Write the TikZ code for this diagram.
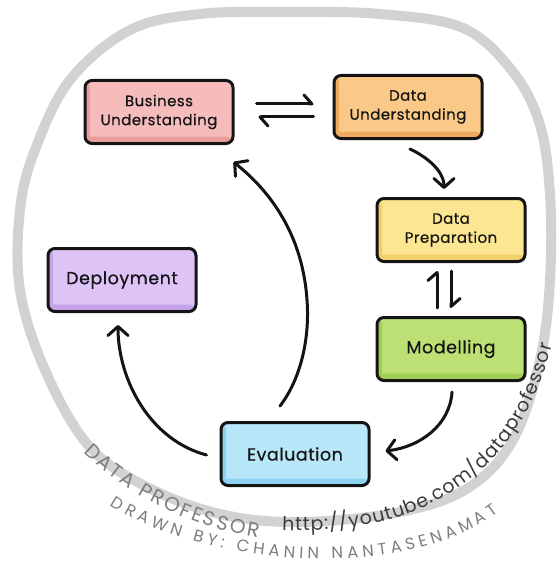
\documentclass[tikz,border=0pt]{standalone}
\usepackage{fontspec}
\newfontfamily\handfont{Poppins}[LetterSpace=3,FakeBold=0.5]
\newfontfamily\signfont{Poppins}
\usetikzlibrary{arrows.meta,decorations.text,calc}

\definecolor{ink}{HTML}{141414}
\definecolor{ringgray}{HTML}{D2D2D2}
\definecolor{signgray}{HTML}{7E7E7E}
\definecolor{urlgray}{HTML}{3A3A3A}
\definecolor{buFill}{HTML}{F6BCBC}\definecolor{buShade}{HTML}{E99C9C}
\definecolor{duFill}{HTML}{FBC987}\definecolor{duShade}{HTML}{F0AA5E}
\definecolor{dpFill}{HTML}{FDE691}\definecolor{dpShade}{HTML}{F2CF6B}
\definecolor{deFill}{HTML}{DEC3F7}\definecolor{deShade}{HTML}{C6A2EA}
\definecolor{moFill}{HTML}{BCE073}\definecolor{moShade}{HTML}{9FCC52}
\definecolor{evFill}{HTML}{B8E7FA}\definecolor{evShade}{HTML}{8DD2F0}

\begin{document}
\begin{tikzpicture}[x=1pt,y=-1pt,
  stage/.style 2 args={draw=ink, line width=3pt, rounded corners=7pt,
    fill=#1, minimum width=148pt, minimum height=63pt, inner sep=0pt,
    align=center, text=ink, font=\handfont\fontsize{15}{19}\selectfont,
    path picture={
      \fill[#2] (path picture bounding box.south west) rectangle
        ([yshift=7pt]path picture bounding box.south east);
      \fill[#2] (path picture bounding box.south west) rectangle
        ([xshift=5pt]path picture bounding box.north west);
    }},
  single/.style={font=\handfont\fontsize{17.5}{20}\selectfont},
  flow/.style={draw=ink, line width=3pt, line cap=round,
    -{Straight Barb[round,length=9pt,width=20pt]}},
  harp/.style={draw=ink, line width=3pt, line cap=round,
    -{Straight Barb[round,left,length=8pt,width=18pt]}},
  ring/.style={draw=ringgray, line width=10pt, line join=round},
  sig/.style={decorate, decoration={text along path, text align=fit to path}},
]
\useasboundingbox (0,0) rectangle (559,575);

% outer hand-drawn loop
\draw[ring] plot[smooth cycle, tension=0.6] coordinates {
  (200,14) (285,12) (380,14) (463,28) (513,72) (540,125) (550,195)
  (550,280) (540,360) (513,440) (468,488) (400,512) (300,522) (220,514)
  (145,486) (88,445) (45,370) (20,290) (20,210) (35,150) (70,80) (130,30)};

% signature along the loop
\path[sig, decoration={text={|\signfont\fontsize{20}{20}\selectfont\color{signgray}|DATA PROFESSOR}}]
  (84,452) .. controls (133,500) and (193,527) .. (258,538);
\path[sig, decoration={text={|\signfont\fontsize{19}{19}\selectfont\color{urlgray}|http://youtube.com/dataprofessor}}]
  (282,530) .. controls (400,535) and (514,494) .. (552,345);
\path[sig, decoration={text={|\signfont\fontsize{16.5}{16.5}\selectfont\color{signgray}|DRAWN BY: CHANIN NANTASENAMAT}}]
  (110,505) .. controls (200,564) and (400,586) .. (498,512);

% stages
\node[stage={buFill}{buShade}] (BU) at (159,112) {Business\\Understanding};
\node[stage={duFill}{duShade}] (DU) at (408,107) {Data\\Understanding};
\node[stage={dpFill}{dpShade}] (DP) at (451,230) {Data\\Preparation};
\node[stage={deFill}{deShade}, single] (DE) at (122,280) {Deployment};
\node[stage={moFill}{moShade}, single] (MO) at (451,349) {Modelling};
\node[stage={evFill}{evShade}, single] (EV) at (295,454) {Evaluation};

% two-way links
\draw[harp] ($(BU.east)+(22,-8)$) -- ($(DU.west)+(-19,-3)$);
\draw[harp] ($(DU.west)+(-19,10)$) -- ($(BU.east)+(24,5)$);
\draw[harp] ($(MO.north)+(-14,-8)$) -- ($(DP.south)+(-14,8)$);
\draw[harp] ($(DP.south)+(0,8)$) -- ($(MO.north)+(0,-8)$);

% cycle arrows
\draw[flow] ($(DU.south)+(2,9)$) .. controls (425,156) and (444,170) .. ($(DP.north)+(-7,-8)$);
\draw[flow] ($(MO.south)+(1,10)$) .. controls (450,425) and (420,447) .. ($(EV.east)+(15,-3)$);
\draw[flow] ($(EV.north)+(-15,-15)$) .. controls (300,380) and (310,340) .. (307,300)
  .. controls (303,240) and (275,195) .. ($(BU.south east)+(-1,17)$);
\draw[flow] ($(EV.west)+(-13,1)$) .. controls (150,440) and (118,380) .. ($(DE.south)+(-4,12)$);
\end{tikzpicture}
\end{document}
